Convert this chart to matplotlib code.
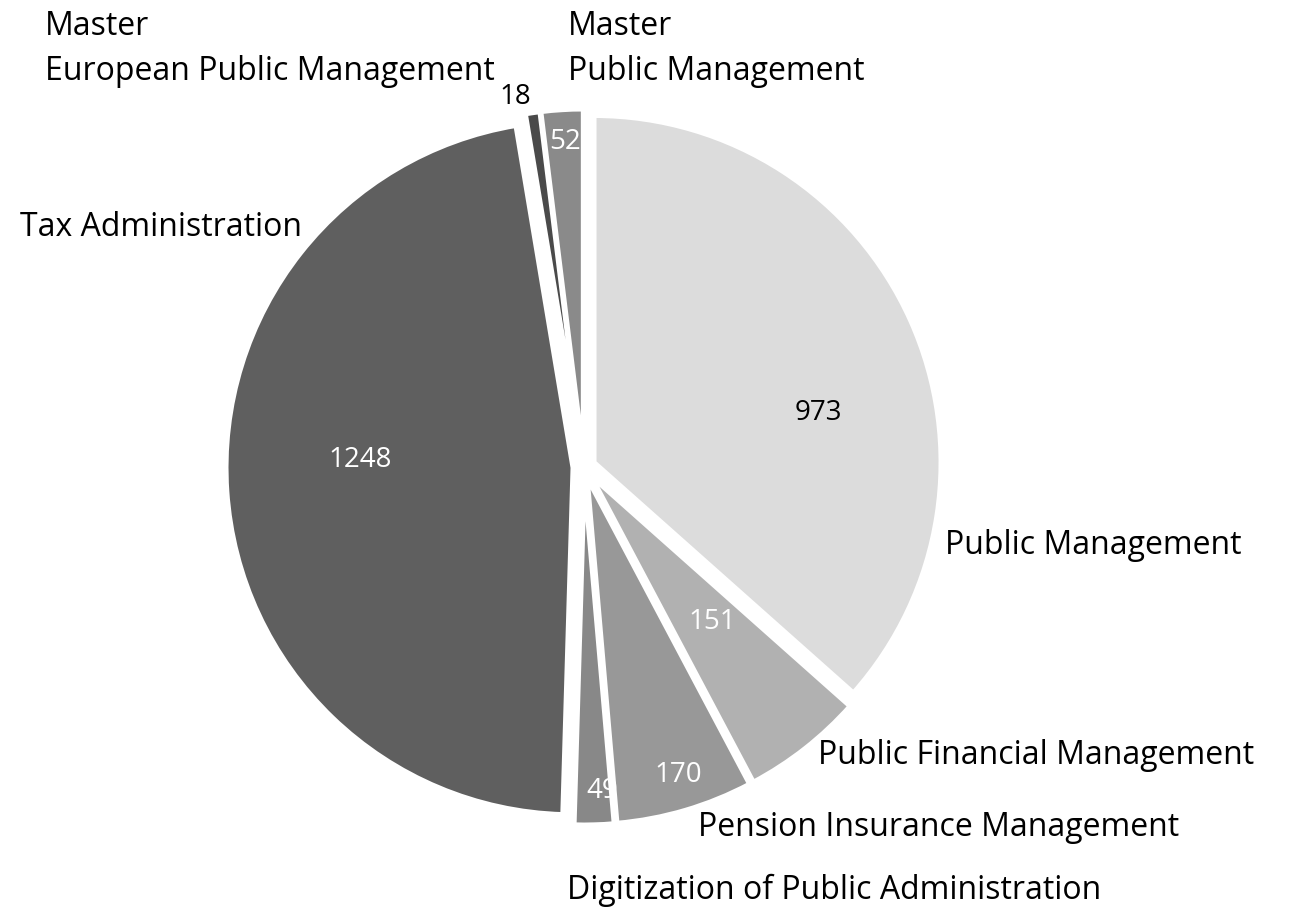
import numpy as np
import matplotlib
matplotlib.use("Agg")
import matplotlib.pyplot as plt

# data (clockwise from 12 o'clock)
categories = [
    "Public Management",
    "Public Financial Management",
    "Pension Insurance Management",
    "Digitization of Public Administration",
    "Tax Administration",
    "Master\nEuropean Public Management",
    "Master\nPublic Management",
]
counts = [973, 151, 170, 49, 1248, 18, 52]
colors = ["#dcdcdc", "#b1b1b1", "#989898", "#888888", "#5f5f5f", "#4a4a4a", "#8a8a8a"]
value_colors = ["black", "white", "white", "white", "white", "black", "white"]

# layout in pixels (figure 1296 x 916)
W, H = 1296, 916
cx, cy, R = 584, 467, 347
label_pos = [(945, 545), (818, 755), (698, 827), (567, 890), (20, 228), (45, 49), (568, 49)]
value_pos = [(818, 413), (712, 622), (678, 775), (602, 791), (360, 460), (515, 97), (565, 142)]

plt.rcParams["font.family"] = ["Open Sans", "DejaVu Sans"]

fig = plt.figure(figsize=(W / 100, H / 100), dpi=100)
ax = fig.add_axes([0, 0, 1, 1])

ax.pie(counts, colors=colors, startangle=90, counterclock=False,
       explode=[11 / R] * len(counts), radius=1,
       wedgeprops=dict(edgecolor="white", linewidth=3.6))

ax.set_xlim(-cx / R, (W - cx) / R)
ax.set_ylim(-(H - cy) / R, cy / R)
ax.set_aspect("auto")
ax.axis("off")

for name, (x, y) in zip(categories, label_pos):
    fig.text(x / W, 1 - y / H, name, ha="left", va="center",
             fontsize=23, linespacing=1.5, color="black")

for val, c, (x, y) in zip(counts, value_colors, value_pos):
    fig.text(x / W, 1 - y / H, str(val), ha="center", va="center",
             fontsize=20, color=c)

fig.savefig("out.png", dpi=100)
